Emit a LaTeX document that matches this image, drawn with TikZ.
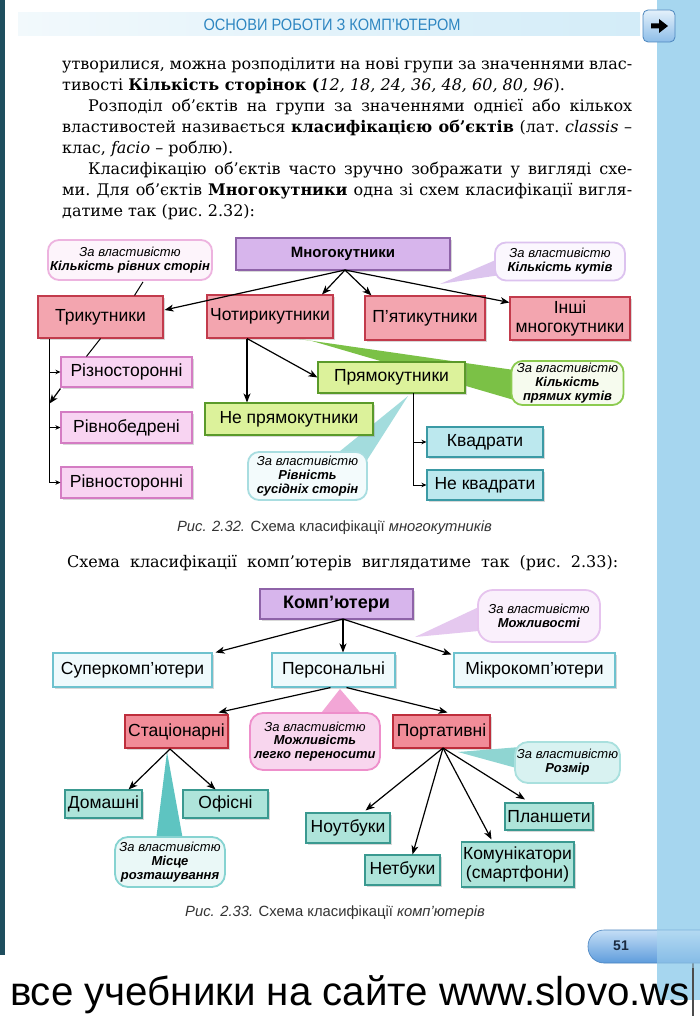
\documentclass[tikz,border=0pt]{standalone}
\usepackage{fontspec}
\setmainfont{DejaVu Serif}
\newfontfamily\dsans{Liberation Sans}
\usetikzlibrary{arrows.meta,shadows,calc}
\definecolor{pur}{HTML}{D7B5EC}\definecolor{purd}{HTML}{8E63A8}
\definecolor{redA}{HTML}{F3A5AF}\definecolor{redAd}{HTML}{C23B4C}
\definecolor{pk}{HTML}{F8D4F2}\definecolor{pkd}{HTML}{D47CC3}
\definecolor{gr}{HTML}{DCF29B}\definecolor{grd}{HTML}{5A9A2A}
\definecolor{cy}{HTML}{BCE8EE}\definecolor{cyd}{HTML}{3B9AA5}
\definecolor{lc}{HTML}{EFFAFC}\definecolor{lcd}{HTML}{6EC2CE}
\definecolor{redB}{HTML}{F18C98}\definecolor{redBd}{HTML}{BE2E3C}
\definecolor{mint}{HTML}{AEE4DA}\definecolor{mintd}{HTML}{3A9990}
\definecolor{band}{HTML}{A6D6EF}
\definecolor{hdr}{HTML}{2E86C1}
\definecolor{leftbar}{HTML}{1E4E5E}
\definecolor{hdrA}{HTML}{F2F9FC}\definecolor{hdrB}{HTML}{D3ECF8}
\definecolor{btnA}{HTML}{E4F1FB}\definecolor{btnB}{HTML}{8DBDE8}\definecolor{btnC}{HTML}{4C86BE}
\definecolor{tTwo}{HTML}{DCC4EE}\definecolor{tThree}{HTML}{7BC146}\definecolor{tFour}{HTML}{A3DCDD}
\definecolor{tFive}{HTML}{E5C8EF}\definecolor{tSix}{HTML}{F2A6D6}\definecolor{tSeven}{HTML}{5EC4C1}\definecolor{tEight}{HTML}{8FD5D2}
\definecolor{cOneD}{HTML}{EDB3DF}\definecolor{cOneF}{HTML}{FDF4FB}
\definecolor{cTwoD}{HTML}{DCC2EF}\definecolor{cTwoF}{HTML}{FBF7FE}
\definecolor{cThreeD}{HTML}{8CCB50}\definecolor{cThreeF}{HTML}{F6FBEE}
\definecolor{cFourD}{HTML}{A8DDE0}\definecolor{cFourF}{HTML}{F3FBFC}
\definecolor{cFiveD}{HTML}{E6C3EE}\definecolor{cFiveF}{HTML}{FAF0FC}
\definecolor{cSixD}{HTML}{EE8FCB}\definecolor{cSixF}{HTML}{F8D6EE}
\definecolor{cSevenD}{HTML}{86D3D1}\definecolor{cSevenF}{HTML}{EAF8F7}
\definecolor{cEightD}{HTML}{A9E0DE}\definecolor{cEightF}{HTML}{D8F2F1}
\definecolor{pillA}{HTML}{C4DEF6}\definecolor{pillB}{HTML}{5E9CDC}\definecolor{pillC}{HTML}{4A84C0}
\definecolor{pgtxt}{HTML}{1A2A40}
\newcommand\bxf{\dsans\fontsize{17.5}{19}\selectfont}
\newcommand\clf{\dsans\fontsize{13}{13.8}\selectfont}
\newcommand\capf{\dsans\fontsize{14.8}{16}\selectfont}
\newcommand\bodyf{\frenchspacing\fontsize{16}{21}\selectfont}
\begin{document}
\begin{tikzpicture}[x=1pt,y=-1pt,
  box/.style={draw, line width=1.1pt, inner sep=2pt, align=center, font=\bxf,
    drop shadow={opacity=0.3, shadow xshift=2pt, shadow yshift=-2pt}},
  purbox/.style={box, fill=pur, draw=purd},
  redbox/.style={box, fill=redA, draw=redAd},
  pkbox/.style={box, fill=pk, draw=pkd},
  grbox/.style={box, fill=gr, draw=grd},
  cybox/.style={box, fill=cy, draw=cyd},
  lcbox/.style={box, fill=lc, draw=lcd},
  redbbox/.style={box, fill=redB, draw=redBd},
  mintbox/.style={box, fill=mint, draw=mintd},
  callout/.style={draw, line width=1.8pt, rounded corners=11pt, align=center, font=\clf, inner sep=1pt},
  arr/.style={line width=1.2pt, -{Stealth[length=9pt,width=7pt,inset=2.5pt]}},
  sarr/.style={line width=1pt, -{Stealth[length=5pt,width=4.5pt,inset=1.5pt]}},
  bodyline/.style={anchor=base west, inner sep=0, font=\bodyf},
  captxt/.style={anchor=base, inner sep=0, font=\capf, text=black!80}]
\useasboundingbox (0,0) rectangle (700,1016);
\fill[white] (0,0) rectangle (700,1016);
% page decorations
\fill[band] (657,0) rectangle (700,1000);
\fill[black!70] (692,960) rectangle (694,1016);
\fill[leftbar] (0,0) rectangle (5,955);
\shade[left color=hdrA, right color=hdrB] (18,13) rectangle (640,36);
\node[inner sep=0, text=hdr] (hd) at (332,24.5) {\resizebox{257pt}{11.5pt}{\dsans ОСНОВИ РОБОТИ З КОМП’ЮТЕРОМ}};
\shade[rounded corners=5pt, top color=btnA, bottom color=btnB, draw=btnC, line width=0.8pt] (643,10) rectangle (675,42);
\fill[black] (651,23.5) -- (659,23.5) -- (659,19) -- (668,26) -- (659,33) -- (659,28.5) -- (651,28.5) -- cycle;
% body text
\node[bodyline] (l1) at (62,70) {\makebox[570pt][s]{утворилися, можна розподілити на нові групи за значеннями влас-}};
\node[bodyline] (l2) at (62,91) {тивості \textbf{Кількість сторінок (}\textit{12, 18, 24, 36, 48, 60, 80, 96}).};
\node[bodyline] (l3) at (88,112) {\makebox[544pt][s]{Розподіл об’єктів на групи за значеннями однієї або кількох}};
\node[bodyline] (l4) at (62,133) {\makebox[570pt][s]{властивостей називається \textbf{класифікацією об’єктів} (лат. \textit{classis} –}};
\node[bodyline] (l5) at (62,154) {клас, \textit{facio} – роблю).};
\node[bodyline] (l6) at (88,175) {\makebox[544pt][s]{Класифікацію об’єктів часто зручно зображати у вигляді схе-}};
\node[bodyline] (l7) at (62,196) {\makebox[570pt][s]{ми. Для об’єктів \textbf{Многокутники} одна зі схем класифікації вигля-}};
\node[bodyline] (l8) at (62,217) {датиме так (рис. 2.32):};
% ---------- figure 2.32 ----------
% callout tails
\fill[tTwo] (505,256) -- (440,284) -- (514,273) -- cycle;
\fill[tThree] (292,338) -- (514,370) -- (514,400) -- (312,341) -- cycle;
\fill[tFour] (334,456) -- (408,396) -- (362,468) -- cycle;
% callouts
\node[callout, draw=cOneD, fill=cOneF, minimum width=164, minimum height=40] (c1) at (130,260) {\textit{За властивістю}\\\textbf{\textit{Кількість рівних сторін}}};
\node[callout, draw=cTwoD, fill=cTwoF, minimum width=130, minimum height=38] (c2) at (560,261.5) {\textit{За властивістю}\\\textbf{\textit{Кількість кутів}}};
\node[callout, draw=cThreeD, fill=cThreeF, minimum width=112, minimum height=44] (c3) at (567.5,383) {\textit{За властивістю}\\\textbf{\textit{Кількість}}\\\textbf{\textit{прямих кутів}}};
\node[callout, draw=cFourD, fill=cFourF, minimum width=119, minimum height=48] (c4) at (307.5,476) {\textit{За властивістю}\\\textbf{\textit{Рівність}}\\\textbf{\textit{сусідніх сторін}}};
% boxes
\node[purbox, minimum width=214, minimum height=32, font=\dsans\bfseries\fontsize{15}{17}\selectfont] (mnog) at (343,254) {Многокутники};
\node[redbox, minimum width=125, minimum height=42] (tri) at (100.5,317) {Трикутники};
\node[redbox, minimum width=126, minimum height=43] (chot) at (270,316.5) {Чотирикутники};
\node[redbox, minimum width=120, minimum height=44] (pyat) at (425,318) {П’ятикутники};
\node[redbox, minimum width=120, minimum height=43] (inshi) at (570,318.5) {Інші\\многокутники};
\node[pkbox, minimum width=131, minimum height=30] (riznost) at (126.5,372) {Різносторонні};
\node[pkbox, minimum width=131, minimum height=31] (rivnob) at (126.5,427.5) {Рівнобедрені};
\node[pkbox, minimum width=131, minimum height=31] (rivnost) at (126.5,482.5) {Рівносторонні};
\node[grbox, minimum width=168, minimum height=32] (nepr) at (289,419) {Не прямокутники};
\node[grbox, minimum width=147, minimum height=31] (pryam) at (391.5,377.5) {Прямокутники};
\node[cybox, minimum width=116, minimum height=30] (kvadr) at (485,442) {Квадрати};
\node[cybox, minimum width=116, minimum height=30] (nekv) at (485,485) {Не квадрати};
% connectors
\coordinate (o1) at (345,270);
\draw[arr] (o1) -- ($(tri.east)+(1,-7)$);
\draw[arr] (o1) -- ($(chot.north)+(52,0)$);
\draw[arr] (o1) -- ($(pyat.north west)+(7,0)$);
\draw[arr] (o1) -- ($(inshi.west)+(0,-16)$);
\coordinate (o2) at (247,338.5);
\draw[arr] (o2) -- (pryam.west);
\draw[arr] (o2) -- (o2 |- nepr.north);
\coordinate (t0) at (49,338.5);
\draw[sarr] (t0) |- (rivnost.west);
\draw[sarr] (t0 |- riznost.west) -- (riznost.west);
\draw[sarr] (t0 |- rivnob.west) -- (rivnob.west);
\coordinate (p0) at (413,393);
\draw[sarr] (p0) |- (nekv.west);
\draw[sarr] (p0 |- kvadr.west) -- (kvadr.west);
\draw[line width=1pt] ($(c1.south)+(13,1)$) -- ($(tri.north)+(34,0)$);
\draw[line width=1pt] (tri.south) -- ($(riznost.north west)+(26,0)$);
\draw[arr] ($(riznost.south west)+(0,1)$) -- ++(-11,15);
\node[captxt] (cap1) at (334.5,531) {\textit{Рис. 2.32.} Схема класифікації \textit{многокутників}};
% ---------- figure 2.33 ----------
\node[bodyline] (l9) at (67,567) {\makebox[551pt][s]{Схема класифікації комп’ютерів виглядатиме так (рис. 2.33):}};
% tails
\fill[tFive] (481,606) -- (415,637) -- (489,630) -- cycle;
\fill[tSix] (318,717) -- (340,689) -- (364,717) -- cycle;
\fill[tSeven] (156,840) -- (167,752) -- (183,840) -- cycle;
\fill[tEight] (458,752) -- (520,747) -- (520,769) -- cycle;
% callouts
\node[callout, draw=cFiveD, fill=cFiveF, rounded corners=15pt, minimum width=122, minimum height=52] (c5) at (539,616) {\textit{За властивістю}\\\textbf{\textit{Можливості}}};
\node[callout, draw=cSixD, fill=cSixF, rounded corners=13pt, minimum width=130, minimum height=57] (c6) at (315,741.5) {\textit{За властивістю}\\\textbf{\textit{Можливість}}\\\textbf{\textit{легко переносити}}};
\node[callout, draw=cSevenD, fill=cSevenF, rounded corners=13pt, minimum width=110, minimum height=50] (c7) at (170,862) {\textit{За властивістю}\\\textbf{\textit{Місце}}\\\textbf{\textit{розташування}}};
\node[callout, draw=cEightD, fill=cEightF, rounded corners=13pt, minimum width=105, minimum height=41] (c8) at (567.5,762.5) {\textit{За властивістю}\\\textbf{\textit{Розмір}}};
% boxes
\node[purbox, minimum width=153, minimum height=30, font=\dsans\bfseries\fontsize{18}{19}\selectfont] (komp) at (336.5,604) {Комп’ютери};
\node[lcbox, minimum width=159, minimum height=34] (super) at (132.5,670) {Суперкомп’ютери};
\node[lcbox, minimum width=123, minimum height=34] (pers) at (333.5,670) {Персональні};
\node[lcbox, minimum width=161, minimum height=34] (mikro) at (534.5,670) {Мікрокомп’ютери};
\node[redbbox, minimum width=103, minimum height=33] (stac) at (176.5,731.5) {Стаціонарні};
\node[redbbox, minimum width=97, minimum height=33] (port) at (441.5,731.5) {Портативні};
\node[mintbox, minimum width=77, minimum height=28] (dom) at (103.5,804) {Домашні};
\node[mintbox, minimum width=85, minimum height=28] (ofis) at (225.5,804) {Офісні};
\node[mintbox, minimum width=84, minimum height=30] (noutb) at (348,828) {Ноутбуки};
\node[mintbox, minimum width=75, minimum height=30] (netb) at (402.5,870) {Нетбуки};
\node[mintbox, minimum width=109, minimum height=45] (komun) at (517.5,864.5) {Комунікатори\\(смартфони)};
\node[mintbox, minimum width=88, minimum height=27] (plansh) at (549,816.5) {Планшети};
% connectors
\coordinate (o3) at (343,619);
\draw[arr] (o3) -- ($(super.north east)+(3,0)$);
\draw[arr] (o3) -- (o3 |- pers.north);
\draw[arr] (o3) -- ($(mikro.north west)+(-2,2)$);
\draw[arr] ($(pers.south)+(-3,0)$) -- ($(stac.north east)+(-10,-2)$);
\draw[arr] ($(pers.south)+(13,0)$) -- ($(port.north)+(6,-2)$);
\coordinate (o5) at (170,749);
\draw[arr] (o5) -- ($(dom.north east)+(-14,0)$);
\draw[arr] (o5) -- ($(ofis.north)+(-10,0)$);
\coordinate (o6) at (443,748);
\draw[arr] (o6) -- ($(noutb.north east)+(-25,-2)$);
\draw[arr] (o6) -- ($(netb.north)+(10,0)$);
\draw[arr] (o6) -- ($(komun.north)+(-26,-2)$);
\draw[arr] (o6) -- ($(plansh.north)+(-24,-3)$);
\node[captxt] (cap2) at (335,916) {\textit{Рис. 2.33.} Схема класифікації \textit{комп’ютерів}};
% page number
\shade[rounded corners=16pt, top color=pillA, bottom color=pillB, draw=pillC, line width=0.6pt] (588,930) rectangle (730,963);
\fill[band, opacity=0.55] (657,925) rectangle (700,968);
\node[inner sep=0, font=\dsans\bfseries\fontsize{14}{16}\selectfont, text=pgtxt] (pg) at (621,946) {51};
% bottom line
\node[anchor=base, inner sep=0] (foot) at (350,1005) {\resizebox{680pt}{!}{\dsans\fontsize{40}{44}\selectfont все учебники на сайте www.slovo.ws}};
\end{tikzpicture}
\end{document}
